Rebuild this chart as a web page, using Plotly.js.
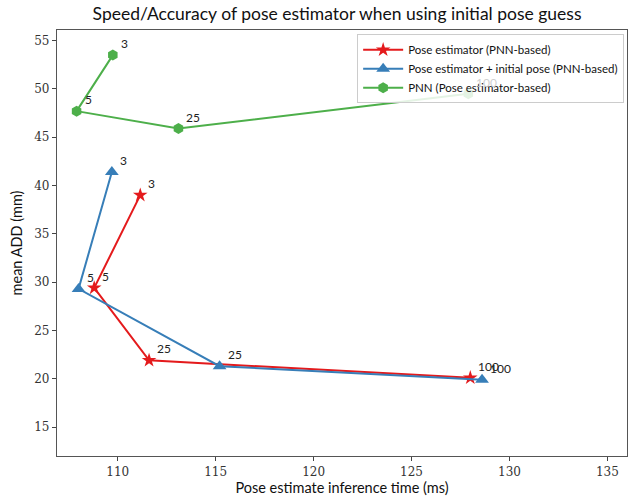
<!DOCTYPE html>
<html><head><meta charset="utf-8">
<script src="https://cdn.plot.ly/plotly-3.0.1.min.js"></script>
<style>body{margin:0;}#chart{width:630px;height:500px;}</style>
</head><body><div id="chart"></div>
<script>
const labels = ["3", "5", "25", "100"];
const peX = [111.15, 108.8, 111.6, 128.0];
const peY = [39.0, 29.4, 21.9, 20.1];
const piX = [109.7, 108.0, 115.2, 128.6];
const piY = [41.4, 29.3, 21.3, 19.9];
const pnnX = [109.75, 107.9, 113.1, 127.9];
const pnnY = [53.5, 47.7, 45.9, 49.5];

const sans = "Lato";
const serif = "DejaVu Serif";

function tr(x, y, name, color, symbol, size) {
  return {x: x, y: y, name: name, mode: 'lines+markers', type: 'scatter',
    line: {color: color, width: 2}, marker: {color: color, symbol: symbol, size: size},
    cliponaxis: false};
}
const traces = [
  tr(peX, peY, 'Pose estimator (PNN-based)', '#e41a1c', 'star', 11),
  tr(piX, piY, 'Pose estimator + initial pose (PNN-based)', '#377eb8', 'triangle-up', 12),
  tr(pnnX, pnnY, 'PNN (Pose estimator-based)', '#4daf4a', 'hexagon', 11)
];
const annotations = [];
[[peX, peY, false], [piX, piY, false], [pnnX, pnnY, true]].forEach(([xs, ys, hid]) => {
  xs.forEach((x, i) => {
    const under = hid && i === 3;
    annotations.push({x: x, y: ys[i], text: labels[i], showarrow: false,
      xanchor: 'left', yanchor: 'bottom', xshift: 6, yshift: 2,
      font: {family: sans, size: 12, color: under ? '#cfcfcf' : '#222'}});
  });
});
const layout = {
  width: 630, height: 500,
  margin: {l: 57, r: 3, t: 30, b: 44},
  paper_bgcolor: 'white', plot_bgcolor: 'white',
  title: {text: 'Speed/Accuracy of pose estimator when using initial pose guess',
    font: {family: sans, size: 17.5, color: '#111'}, x: 0.535, xanchor: 'center', y: 0.972, yanchor: 'middle'},
  xaxis: {range: [106.9, 136.0], tickvals: [110, 115, 120, 125, 130, 135], showgrid: false, zeroline: false,
    ticks: 'outside', ticklen: 4, tickcolor: '#444', showline: true, mirror: true, linecolor: '#555', linewidth: 1.2,
    tickfont: {family: serif, size: 12, color: '#333'},
    title: {text: 'Pose estimate inference time (ms)', font: {family: sans, size: 14.5, color: '#111'}, standoff: 5}},
  yaxis: {range: [12.0, 56.1], tickvals: [15, 20, 25, 30, 35, 40, 45, 50, 55], showgrid: false, zeroline: false,
    ticks: 'outside', ticklen: 4, tickcolor: '#444', showline: true, mirror: true, linecolor: '#555', linewidth: 1.2,
    tickfont: {family: serif, size: 12, color: '#333'},
    title: {text: 'mean ADD (mm)', font: {family: sans, size: 14.5, color: '#111'}, standoff: 8}},
  legend: {x: 0.995, y: 0.99, xanchor: 'right', yanchor: 'top', bgcolor: 'rgba(255,255,255,0.85)',
    bordercolor: '#ccc', borderwidth: 1, font: {family: sans, size: 11.5, color: '#111'}, tracegroupgap: 0,
    itemwidth: 40},
  showlegend: true,
  annotations: annotations
};
Plotly.newPlot('chart', traces, layout, {displayModeBar: false});
</script></body></html>
